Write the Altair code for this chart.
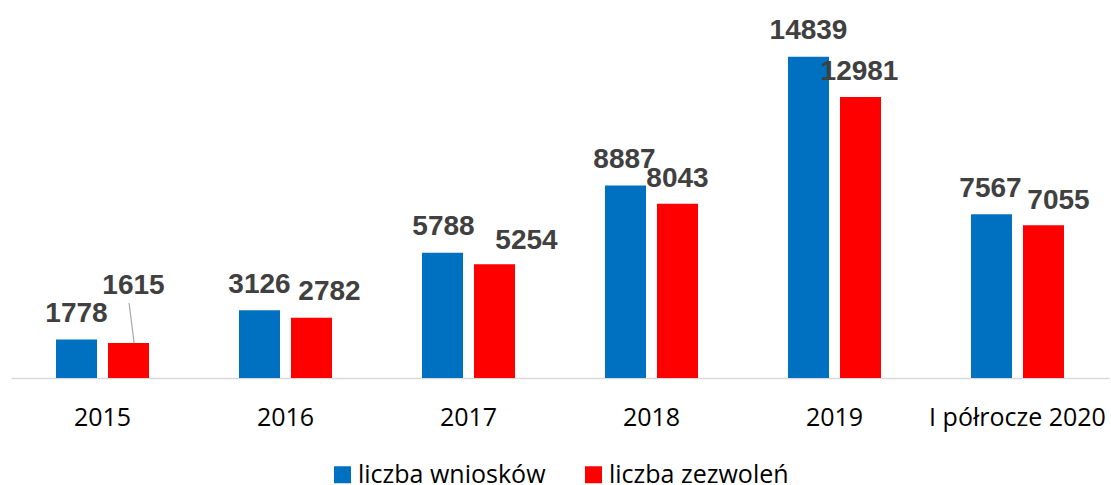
import altair as alt
import pandas as pd

years = ["2015", "2016", "2017", "2018", "2019", "I półrocze 2020"]
wnioski = [1778, 3126, 5788, 8887, 14839, 7567]
zezwolenia = [1615, 2782, 5254, 8043, 12981, 7055]
series = ["liczba wniosków", "liczba zezwoleń"]
colors = ["#0070C0", "#FF0000"]

rows = []
for r, a, b in zip(years, wnioski, zezwolenia):
    rows.append({"rok": r, "seria": series[0], "wartosc": a})
    rows.append({"rok": r, "seria": series[1], "wartosc": b})
df = pd.DataFrame(rows)

# pixel nudges of the data labels, as placed in the original
label_dx = {series[0]: [0, 0, 1, -1, 0, -1], series[1]: [5, 18, 32, 0, -1, 15]}
label_dy = {series[0]: [-17.5] * 6, series[1]: [-49.5, -17.5, -15.5, -16.5, -16.5, -16.5]}

x_enc = alt.X(
    "rok:N",
    sort=years,
    scale=alt.Scale(paddingInner=0, paddingOuter=0),
    axis=alt.Axis(
        title=None,
        ticks=False,
        labelAngle=0,
        labelFont="Open Sans",
        labelFontSize=25,
        labelColor="#000000",
        labelPadding=27,
        labelLimit=0,
        domainColor="#D9D9D9",
        domainWidth=1.5,
        grid=False,
    ),
)
xoff_enc = alt.XOffset(
    "seria:N", sort=series, scale=alt.Scale(paddingInner=0.2115, paddingOuter=0.865)
)
y_enc = alt.Y(
    "wartosc:Q", scale=alt.Scale(domain=[0, 17457], nice=False), axis=None
)

base = alt.Chart(df)

bars = base.mark_bar().encode(
    x=x_enc,
    xOffset=xoff_enc,
    y=y_enc,
    color=alt.Color(
        "seria:N",
        sort=series,
        scale=alt.Scale(domain=series, range=colors),
        legend=alt.Legend(
            orient="none",
            legendX=319,
            legendY=462,
            direction="horizontal",
            title=None,
            symbolType="square",
            symbolSize=289,
            symbolStrokeWidth=0,
            labelFont="Open Sans",
            labelFontSize=25,
            labelColor="#000000",
            labelOffset=3,
            labelLimit=0,
            columnPadding=35,
            padding=0,
        ),
    ),
)

layers = [bars]

leader = base.transform_filter(
    (alt.datum.rok == years[0]) & (alt.datum.seria == series[1])
).mark_rule(color="#A6A6A6", strokeWidth=1.2, xOffset=31.6, x2Offset=26.6, y2Offset=-40).encode(
    x=alt.X("rok:N", sort=years),
    x2=alt.X2("rok:N"),
    y=alt.Y("wartosc:Q"),
    y2=alt.Y2("wartosc:Q"),
)
layers.append(leader)

for s in series:
    for i, r in enumerate(years):
        t = base.transform_filter(
            (alt.datum.rok == r) & (alt.datum.seria == s)
        ).mark_text(
            dx=label_dx[s][i],
            dy=label_dy[s][i],
            baseline="alphabetic",
            align="center",
            font="Liberation Sans",
            fontWeight="bold",
            fontSize=28,
            color="#404040",
        ).encode(
            x=alt.X("rok:N", sort=years),
            xOffset=alt.XOffset("seria:N", sort=series),
            y=alt.Y("wartosc:Q"),
            text=alt.Text("wartosc:Q", format="d"),
        )
        layers.append(t)

chart = alt.layer(*layers).properties(
    width=1098,
    height=378,
    autosize=alt.AutoSizeParams(type="none"),
    padding={"left": 11, "top": 0, "right": 2, "bottom": 107},
    background="#FFFFFF",
).configure_view(stroke=None)

chart.save("out.html", embed_options={"renderer": "svg", "actions": False})
